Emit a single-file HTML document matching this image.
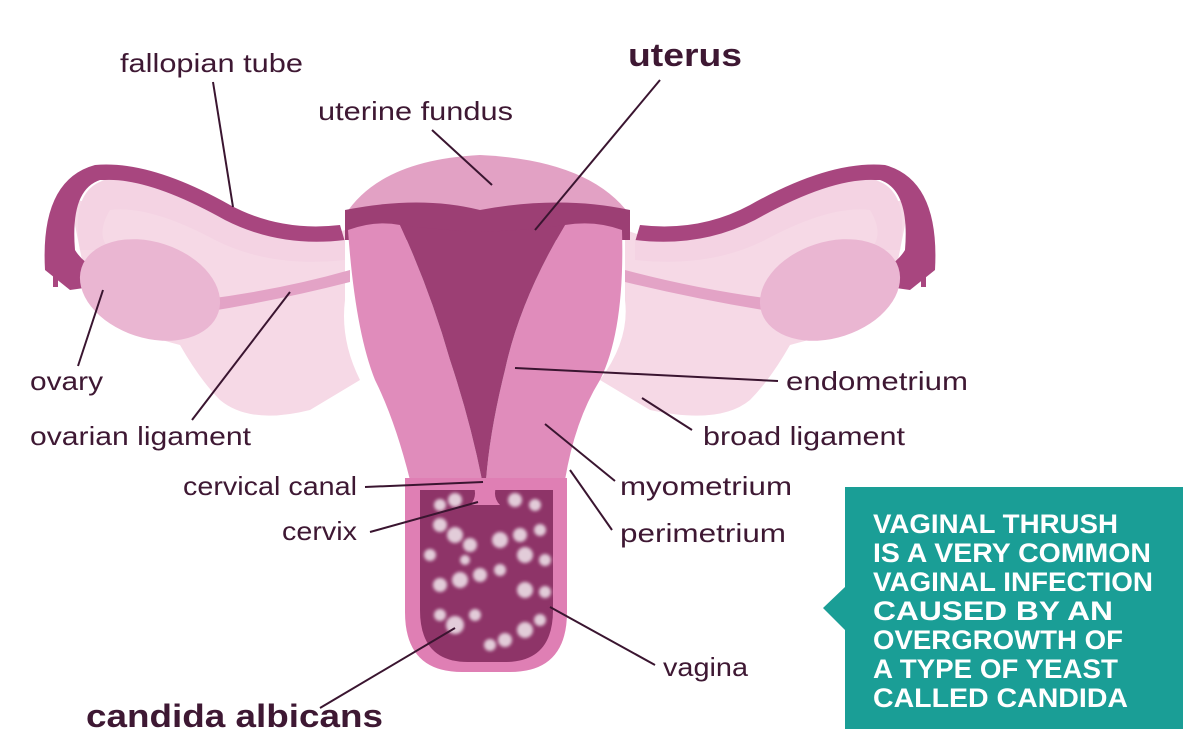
<!DOCTYPE html>
<html><head><meta charset="utf-8"><style>
html,body{margin:0;padding:0;background:#fff;}
svg{display:block}
.l{font-family:"Liberation Sans",sans-serif;font-size:26px;fill:#3e1833}
.b{font-family:"Liberation Sans",sans-serif;font-size:32px;font-weight:bold;fill:#3e1833}
.t{font-family:"Liberation Sans",sans-serif;font-size:27px;font-weight:bold;fill:#fff}
line{stroke:#3a1530;stroke-width:2}
</style></head><body>
<svg width="1200" height="744" viewBox="0 0 1200 744" xmlns="http://www.w3.org/2000/svg">
<defs><filter id="bl"><feGaussianBlur stdDeviation="1.6"/></filter></defs>
<!-- broad ligament -->
<path d="M70 200 Q200 210 330 235 L345 230 L345 300 Q340 340 360 380 L310 410 Q250 425 220 400 Q200 380 180 345 Q120 330 90 300 Z" fill="#f6d9e6"/>
<path d="M910 200 Q780 210 640 235 L625 230 L625 300 Q630 340 600 380 L650 410 Q720 425 750 400 Q770 380 790 345 Q850 330 890 300 Z" fill="#f6d9e6"/>
<!-- tubes -->
<path d="M45 270 Q40 180 95 165 Q150 160 230 205 Q280 232 340 225 L345 242 Q280 250 225 222 Q150 180 100 180 Q70 190 75 250 Q90 275 140 280 L70 290 Z" fill="#a8467f"/>
<path d="M80 250 Q70 190 105 180 Q150 178 225 220 Q280 248 345 240 L345 260 Q270 268 215 240 Q150 205 110 210 Q95 235 110 250 Z" fill="#f4d3e3"/>
<path d="M935 270 Q940 180 885 165 Q830 160 750 205 Q700 232 640 225 L635 242 Q700 250 755 222 Q830 180 880 180 Q910 190 905 250 Q890 275 840 280 L910 290 Z" fill="#a8467f"/>
<path d="M900 250 Q910 190 875 180 Q830 178 755 220 Q700 248 635 240 L635 260 Q710 268 765 240 Q830 205 870 210 Q885 235 870 250 Z" fill="#f4d3e3"/>
<rect x="53" y="265" width="5" height="22" fill="#a8467f"/><rect x="66" y="265" width="5" height="22" fill="#a8467f"/>
<rect x="907" y="265" width="5" height="22" fill="#a8467f"/><rect x="921" y="265" width="5" height="22" fill="#a8467f"/>
<!-- ovarian ligaments -->
<path d="M200 300 Q280 290 350 270 L350 282 Q280 300 205 312 Z" fill="#e3a3c6"/>
<path d="M780 300 Q700 290 625 270 L625 282 Q700 300 775 312 Z" fill="#e3a3c6"/>
<!-- ovaries -->
<ellipse cx="150" cy="290" rx="72" ry="48" fill="#eab6d2" transform="rotate(18 150 290)"/>
<ellipse cx="830" cy="290" rx="72" ry="48" fill="#eab6d2" transform="rotate(-18 830 290)"/>
<!-- fundus -->
<path d="M345 215 Q380 160 480 155 Q590 160 630 215 L630 240 L345 240 Z" fill="#e2a1c4"/>
<path d="M345 210 Q420 195 480 210 Q560 195 630 210 L630 240 L345 240 Z" fill="#9c3f74"/>
<!-- walls -->
<path d="M348 230 Q375 220 400 225 Q430 290 450 360 Q470 420 482 480 L410 480 Q395 420 375 380 Q355 330 348 230 Z" fill="#e08cbb"/>
<path d="M622 230 Q595 220 565 225 Q520 300 505 370 Q490 430 486 480 L565 480 Q575 420 600 380 Q625 330 622 230 Z" fill="#e08cbb"/>
<path d="M400 225 Q440 230 480 232 Q530 230 565 225 Q520 300 505 370 Q490 430 486 480 L482 480 Q470 420 450 360 Q430 290 400 225 Z" fill="#9c3f74"/>
<!-- vagina -->
<path d="M405 478 L567 478 L567 612 Q567 672 510 672 L462 672 Q405 672 405 612 Z" fill="#df7fb4"/>
<path d="M420 490 L553 490 L553 610 Q553 662 505 662 L468 662 Q420 662 420 610 Z" fill="#8e3468"/>
<path d="M470 478 L500 478 Q490 495 500 505 L470 505 Q480 495 470 478Z" fill="#df7fb4"/>
<g fill="#fff" opacity="0.75" filter="url(#bl)">
<circle cx="440" cy="505" r="6"/><circle cx="455" cy="500" r="7"/><circle cx="515" cy="500" r="7"/><circle cx="535" cy="505" r="6"/>
<circle cx="440" cy="525" r="7"/><circle cx="455" cy="535" r="8"/><circle cx="470" cy="545" r="7"/><circle cx="500" cy="540" r="8"/><circle cx="520" cy="535" r="7"/><circle cx="540" cy="530" r="6"/>
<circle cx="430" cy="555" r="6"/><circle cx="465" cy="560" r="5"/><circle cx="525" cy="555" r="8"/><circle cx="545" cy="560" r="6"/>
<circle cx="440" cy="585" r="7"/><circle cx="460" cy="580" r="8"/><circle cx="480" cy="575" r="7"/><circle cx="500" cy="570" r="6"/><circle cx="525" cy="590" r="8"/><circle cx="545" cy="592" r="6"/>
<circle cx="440" cy="615" r="6"/><circle cx="455" cy="625" r="9"/><circle cx="475" cy="615" r="6"/><circle cx="505" cy="640" r="7"/><circle cx="525" cy="630" r="8"/><circle cx="540" cy="620" r="6"/><circle cx="490" cy="645" r="6"/>
</g>
<!-- lines -->
<line x1="213" y1="82" x2="233" y2="207"/>
<line x1="432" y1="130" x2="492" y2="185"/>
<line x1="660" y1="80" x2="535" y2="230"/>
<line x1="78" y1="366" x2="103" y2="290"/>
<line x1="192" y1="420" x2="290" y2="292"/>
<line x1="365" y1="487" x2="483" y2="482"/>
<line x1="370" y1="532" x2="478" y2="502"/>
<line x1="778" y1="381" x2="515" y2="368"/>
<line x1="692" y1="430" x2="642" y2="398"/>
<line x1="615" y1="481" x2="545" y2="424"/>
<line x1="612" y1="530" x2="570" y2="470"/>
<line x1="655" y1="665" x2="550" y2="607"/>
<line x1="320" y1="708" x2="455" y2="628"/>
<!-- labels -->
<text class="l" x="120" y="72" textLength="183" lengthAdjust="spacingAndGlyphs">fallopian tube</text>
<text class="b" x="628" y="66" textLength="114" lengthAdjust="spacingAndGlyphs">uterus</text>
<text class="l" x="318" y="120" textLength="195" lengthAdjust="spacingAndGlyphs">uterine fundus</text>
<text class="l" x="30" y="390" textLength="73" lengthAdjust="spacingAndGlyphs">ovary</text>
<text class="l" x="30" y="445" textLength="221" lengthAdjust="spacingAndGlyphs">ovarian ligament</text>
<text class="l" x="183" y="495" textLength="174" lengthAdjust="spacingAndGlyphs">cervical canal</text>
<text class="l" x="282" y="540" textLength="75" lengthAdjust="spacingAndGlyphs">cervix</text>
<text class="l" x="786" y="390" textLength="182" lengthAdjust="spacingAndGlyphs">endometrium</text>
<text class="l" x="703" y="445" textLength="202" lengthAdjust="spacingAndGlyphs">broad ligament</text>
<text class="l" x="620" y="495" textLength="172" lengthAdjust="spacingAndGlyphs">myometrium</text>
<text class="l" x="620" y="542" textLength="166" lengthAdjust="spacingAndGlyphs">perimetrium</text>
<text class="l" x="663" y="676" textLength="85" lengthAdjust="spacingAndGlyphs">vagina</text>
<text class="b" x="86" y="727" textLength="297" lengthAdjust="spacingAndGlyphs">candida albicans</text>
<!-- teal box -->
<path d="M845 487 L1183 487 L1183 729 L845 729 L845 630 L823 608 L845 587 Z" fill="#1a9e96"/>
<g class="t">
<text x="873" y="533" textLength="245" lengthAdjust="spacingAndGlyphs">VAGINAL THRUSH</text>
<text x="873" y="562" textLength="278" lengthAdjust="spacingAndGlyphs">IS A VERY COMMON</text>
<text x="873" y="591" textLength="280" lengthAdjust="spacingAndGlyphs">VAGINAL INFECTION</text>
<text x="873" y="620" textLength="240" lengthAdjust="spacingAndGlyphs">CAUSED  BY  AN</text>
<text x="873" y="649" textLength="250" lengthAdjust="spacingAndGlyphs">OVERGROWTH OF</text>
<text x="873" y="678" textLength="245" lengthAdjust="spacingAndGlyphs">A TYPE OF YEAST</text>
<text x="873" y="707" textLength="255" lengthAdjust="spacingAndGlyphs">CALLED CANDIDA</text>
</g>
</svg>
</body></html>
